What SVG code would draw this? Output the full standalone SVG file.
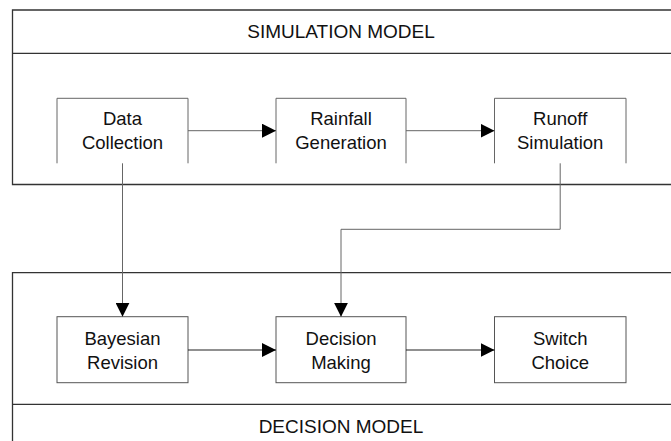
<svg xmlns="http://www.w3.org/2000/svg" width="671" height="441" viewBox="0 0 671 441">
  <style>
    .frame{fill:none;stroke:#333;stroke-width:1.3}
    .box{fill:#fff;stroke:#555;stroke-width:1}
    .open{fill:none;stroke:#666;stroke-width:1}
    .lbl{font-family:"Liberation Sans",Arial,sans-serif;font-size:18.5px;fill:#111;text-anchor:middle}
    .ttl{font-family:"Liberation Sans",Arial,sans-serif;font-size:19px;fill:#111;text-anchor:middle}
    .con{fill:none;stroke:#666;stroke-width:1}
    .con2{fill:none;stroke:#222;stroke-width:1.2}
  </style>
  <defs>
    <marker id="arr" markerUnits="userSpaceOnUse" markerWidth="14" markerHeight="14" viewBox="0 0 13 13" refX="13" refY="6.5" orient="auto">
      <path d="M0,0 L13,6.5 L0,13 Z" fill="#000"/>
    </marker>
  </defs>
  <rect width="671" height="441" fill="#fff"/>

  <g id="simulation-model">
    <path class="frame" d="M680,10 H12.5 V184.5 H680"/>
    <line class="frame" x1="12.5" y1="53.3" x2="680" y2="53.3"/>
    <text class="ttl" x="341" y="37.5">SIMULATION MODEL</text>
  </g>

  <g id="decision-model">
    <path class="frame" d="M680,272.7 H12.5 V450"/>
    <line class="frame" x1="12.5" y1="404.3" x2="680" y2="404.3"/>
    <text class="ttl" x="341" y="433">DECISION MODEL</text>
  </g>

  <g id="data-collection">
    <path class="open" d="M57,163.3 V98.3 H188 V163.3"/>
    <text class="lbl" x="122.5" y="125">Data</text>
    <text class="lbl" x="122.5" y="148.5">Collection</text>
  </g>
  <g id="rainfall-generation">
    <path class="open" d="M276,163.3 V98.3 H406 V163.3"/>
    <text class="lbl" x="341" y="125">Rainfall</text>
    <text class="lbl" x="341" y="148.5">Generation</text>
  </g>
  <g id="runoff-simulation">
    <path class="open" d="M494.5,163.3 V98.3 H626 V163.3"/>
    <text class="lbl" x="560.2" y="125">Runoff</text>
    <text class="lbl" x="560.2" y="148.5">Simulation</text>
  </g>

  <g id="bayesian-revision">
    <rect class="box" x="57" y="316.7" width="131" height="66"/>
    <text class="lbl" x="122.5" y="345">Bayesian</text>
    <text class="lbl" x="122.5" y="368.5">Revision</text>
  </g>
  <g id="decision-making">
    <rect class="box" x="276" y="316.7" width="130" height="66"/>
    <text class="lbl" x="341" y="345">Decision</text>
    <text class="lbl" x="341" y="368.5">Making</text>
  </g>
  <g id="switch-choice">
    <rect class="box" x="494.5" y="316.7" width="131.5" height="66"/>
    <text class="lbl" x="560.2" y="345">Switch</text>
    <text class="lbl" x="560.2" y="368.5">Choice</text>
  </g>

  <g id="connectors">
    <line class="con" x1="188" y1="130.7" x2="276" y2="130.7" marker-end="url(#arr)"/>
    <line class="con" x1="406" y1="130.7" x2="494.5" y2="130.7" marker-end="url(#arr)"/>
    <line class="con" x1="122.5" y1="163.3" x2="122.5" y2="316.7" marker-end="url(#arr)"/>
    <path class="con" d="M560.2,163.3 V229.3 H341 V316.7" marker-end="url(#arr)"/>
    <line class="con2" x1="188" y1="350" x2="276" y2="350" marker-end="url(#arr)"/>
    <line class="con2" x1="406" y1="350" x2="494.5" y2="350" marker-end="url(#arr)"/>
  </g>
</svg>
